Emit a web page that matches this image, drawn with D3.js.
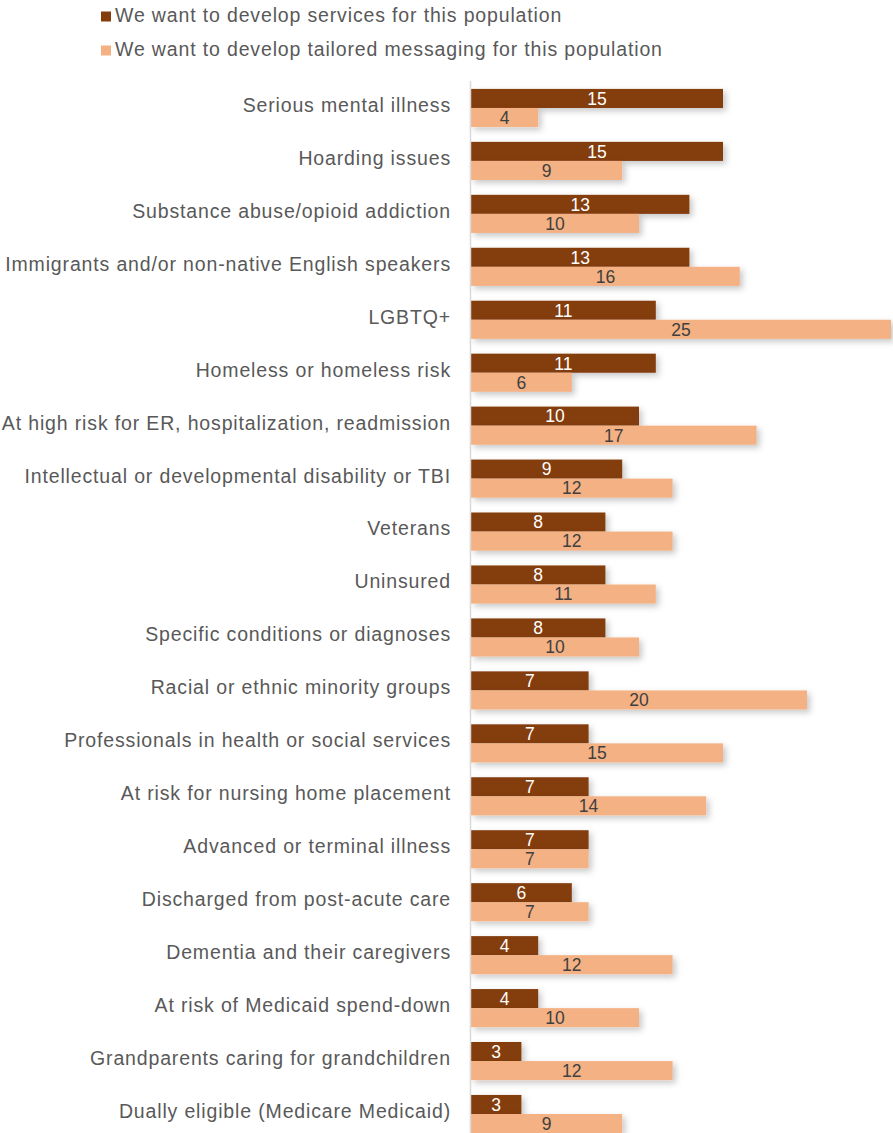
<!DOCTYPE html>
<html>
<head>
<meta charset="utf-8">
<script src="https://cdn.jsdelivr.net/npm/d3@7"></script>
<style>
  html, body { margin: 0; padding: 0; background: #fff; }
  svg { display: block; }
  text { font-family: "Liberation Sans", Arial, sans-serif; }
</style>
</head>
<body>
<svg id="chart" width="893" height="1133"></svg>
<script>
const categories = [
  "Serious mental illness",
  "Hoarding issues",
  "Substance abuse/opioid addiction",
  "Immigrants and/or non-native English speakers",
  "LGBTQ+",
  "Homeless or homeless risk",
  "At high risk for ER, hospitalization, readmission",
  "Intellectual or developmental disability or TBI",
  "Veterans",
  "Uninsured",
  "Specific conditions or diagnoses",
  "Racial or ethnic minority groups",
  "Professionals in health or social services",
  "At risk for nursing home placement",
  "Advanced or terminal illness",
  "Discharged from post-acute care",
  "Dementia and their caregivers",
  "At risk of Medicaid spend-down",
  "Grandparents caring for grandchildren",
  "Dually eligible (Medicare Medicaid)"
];
const servicesValues  = [15, 15, 13, 13, 11, 11, 10, 9, 8, 8, 8, 7, 7, 7, 7, 6, 4, 4, 3, 3];
const messagingValues = [4, 9, 10, 16, 25, 6, 17, 12, 12, 11, 10, 20, 15, 14, 7, 7, 12, 10, 12, 9];
const seriesNames = [
  "We want to develop services for this population",
  "We want to develop tailored messaging for this population"
];
const seriesColors = ["#843C0C", "#F4B183"];
const labelColors = ["#ffffff", "#404040"];

const svg = d3.select("#chart");
const width = 893, height = 1133;
const axisX = 471;

// drop shadow used by the bars
const defs = svg.append("defs");
const f = defs.append("filter").attr("id", "shadow")
  .attr("x", "-10%").attr("y", "-30%").attr("width", "130%").attr("height", "190%");
f.append("feDropShadow").attr("dx", 3).attr("dy", 3).attr("stdDeviation", 3)
  .attr("flood-color", "#000").attr("flood-opacity", 0.22);

const x = d3.scaleLinear().domain([0, 25]).range([axisX, 891]);
const y = d3.scaleBand().domain(categories).range([81.5, 1140.5]).paddingInner(0.28).paddingOuter(0.14);
const sub = d3.scaleBand().domain([0, 1]).range([0, y.bandwidth()]);

// legend
const legend = svg.append("g");
seriesNames.forEach((name, i) => {
  const ly = 15.5 + i * 34;
  legend.append("rect").attr("x", 101).attr("y", ly - 4).attr("width", 10).attr("height", 10)
    .attr("fill", seriesColors[i]);
  legend.append("text").attr("x", 115).attr("y", ly).attr("dy", "0.35em")
    .attr("font-size", 19.5).attr("letter-spacing", 0.85).attr("fill", "#595959").text(name);
});

// category axis labels
const yAxis = d3.axisLeft(y).tickSize(0).tickPadding(20);
const ag = svg.append("g").attr("transform", `translate(${axisX},0)`).call(yAxis);
ag.select(".domain").remove();
ag.selectAll("text").attr("font-size", 19.5).attr("letter-spacing", 0.85).attr("fill", "#595959")
  .attr("font-family", "Liberation Sans, Arial, sans-serif").attr("dy", "0.2em");

// bars
const rows = categories.map((c, i) => ({ cat: c, vals: [servicesValues[i], messagingValues[i]] }));
const groups = svg.append("g").selectAll("g").data(rows).join("g")
  .attr("transform", d => `translate(0,${y(d.cat)})`);

groups.selectAll("rect").data(d => d.vals.map((v, k) => ({ v, k }))).join("rect")
  .attr("x", x(0))
  .attr("y", d => sub(d.k))
  .attr("width", d => x(d.v) - x(0))
  .attr("height", sub.bandwidth())
  .attr("fill", d => seriesColors[d.k])
  .attr("filter", "url(#shadow)");

groups.selectAll("text").data(d => d.vals.map((v, k) => ({ v, k }))).join("text")
  .attr("x", d => (x(d.v) + x(0)) / 2)
  .attr("y", d => sub(d.k) + sub.bandwidth() / 2)
  .attr("dy", "0.36em")
  .attr("text-anchor", "middle")
  .attr("font-size", 17.5)
  .attr("fill", d => labelColors[d.k])
  .text(d => d.v);

// vertical category axis line
svg.append("line").attr("x1", axisX - 0.5).attr("x2", axisX - 0.5)
  .attr("y1", 81).attr("y2", height).attr("stroke", "#d9d9d9").attr("stroke-width", 1.5);
</script>
</body>
</html>
